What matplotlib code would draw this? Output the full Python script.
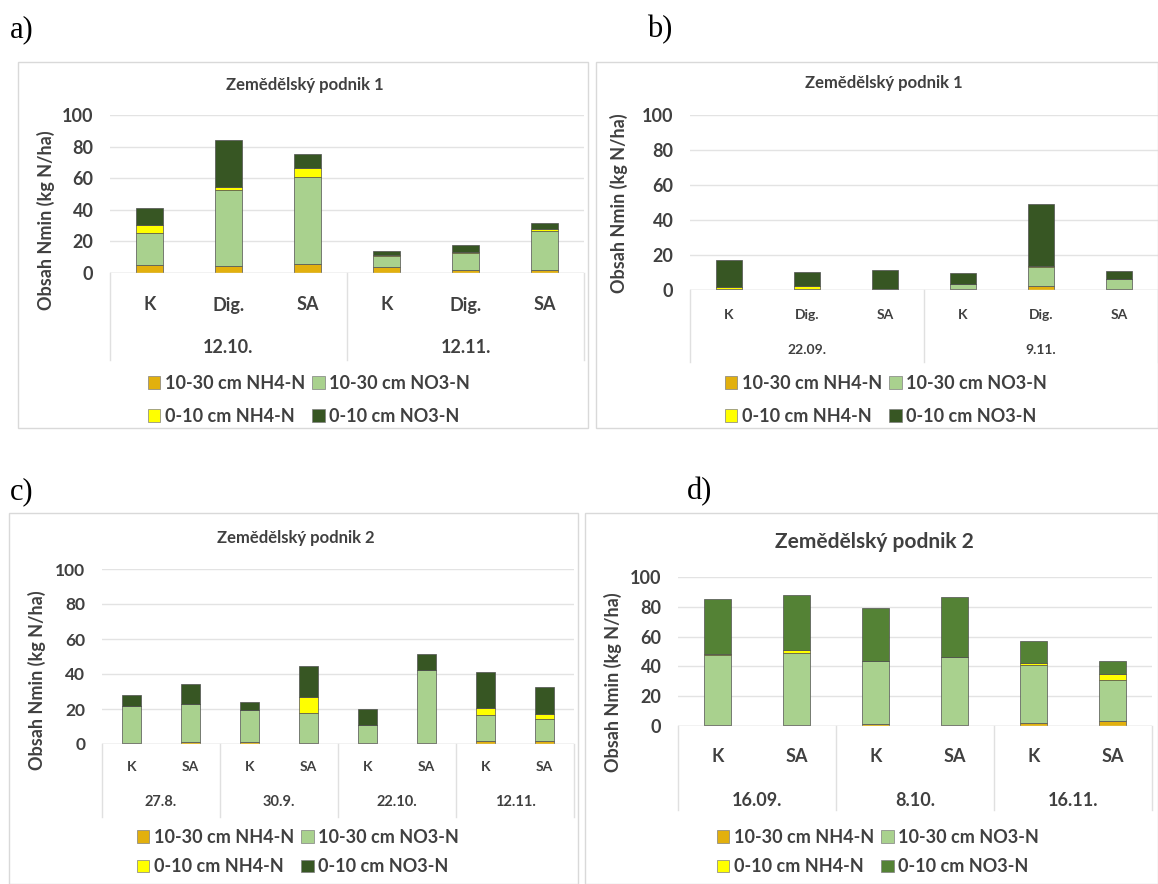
import matplotlib.pyplot as plt
from matplotlib.patches import Patch, Rectangle
from matplotlib.transforms import blended_transform_factory

plt.rcParams['font.family'] = ['Lato', 'DejaVu Sans']

W, H = 1158, 884

legend_labels = ["10-30 cm NH4-N", "10-30 cm NO3-N", "0-10 cm NH4-N", "0-10 cm NO3-N"]

# a) Zemědělský podnik 1
a_cats = ["K", "Dig.", "SA", "K", "Dig.", "SA"]
a_dates = ["12.10.", "12.11."]
a_nh4_deep = [5, 4.7, 6, 3.5, 2, 2]
a_no3_deep = [20.5, 48, 55, 7, 10.7, 24.5]
a_nh4_top = [5, 2, 5.3, 1, 0.5, 1.5]
a_no3_top = [10.5, 29.5, 9, 2.5, 4.5, 3.8]

# b) Zemědělský podnik 1
b_cats = ["K", "Dig.", "SA", "K", "Dig.", "SA"]
b_dates = ["22.09.", "9.11."]
b_nh4_deep = [0.3, 0.5, 0.3, 0.3, 2.3, 0.5]
b_no3_deep = [0.5, 0.3, 0.3, 3, 10.7, 5.6]
b_nh4_top = [0.8, 1.5, 0.2, 0.2, 0.5, 0.2]
b_no3_top = [15.6, 8, 10.5, 6.3, 35.4, 4.8]

# c) Zemědělský podnik 2
c_cats = ["K", "SA", "K", "SA", "K", "SA", "K", "SA"]
c_dates = ["27.8.", "30.9.", "22.10.", "12.11."]
c_nh4_deep = [0.3, 1, 1, 0.5, 0.3, 0.3, 2, 2]
c_no3_deep = [21.5, 21.7, 18.5, 17.1, 10.6, 42.1, 14.6, 12.5]
c_nh4_top = [0, 0.3, 0, 9.5, 0, 0, 3.8, 2.5]
c_no3_top = [6.2, 11.4, 4.4, 17.6, 9.3, 9.1, 21, 15.8]

# d) Zemědělský podnik 2
d_cats = ["K", "SA", "K", "SA", "K", "SA"]
d_dates = ["16.09.", "8.10.", "16.11."]
d_nh4_deep = [1, 1, 1.5, 1, 2, 3.3]
d_no3_deep = [46.5, 48.1, 42, 45, 38.8, 27.9]
d_nh4_top = [0.5, 1.8, 0.3, 0.3, 1.2, 3.4]
d_no3_top = [37.5, 37.3, 35.4, 40.3, 15.1, 9.2]

colors_dark = ['#E2B00E', '#A9D18E', '#FFFF00', '#375623']
colors_mid = ['#E2B00E', '#A9D18E', '#FFFF00', '#548235']

fig = plt.figure(figsize=(W / 100, H / 100), dpi=100)


def fx(x):
    return x / W


def fy(y):
    return 1 - y / H


def panel(box, plot, title, title_xy, title_fs, ylab_xy, cats, dates, layers, colors,
          cat_y, cat_fs, date_y, date_fs, sep_bottom, leg_xy, leg_fs, leg_ls, tick_fs):
    # light frame of the chart
    x0, y0, x1, y1 = box
    fig.add_artist(Rectangle((fx(x0), fy(y1)), fx(x1) - fx(x0), fy(y0) - fy(y1),
                             transform=fig.transFigure, fill=False, ec='#d9d9d9', lw=1))
    l, t, r, b = plot
    ax = fig.add_axes([fx(l), fy(b), fx(r) - fx(l), fy(t) - fy(b)])
    n = len(cats)
    xs = list(range(n))
    bottom = [0] * n
    handles = []
    for vals, col, lab in zip(layers, colors, legend_labels):
        ax.bar(xs, vals, 0.33, bottom=bottom, color=col, edgecolor='#505050', linewidth=0.5)
        bottom = [bo + v for bo, v in zip(bottom, vals)]
        handles.append(Patch(facecolor=col, edgecolor='#808080', linewidth=0.5, label=lab))
    ax.set_xlim(-0.5, n - 0.5)
    ax.set_ylim(0, 100)
    ax.set_yticks(range(0, 101, 20))
    ax.yaxis.grid(True, color='#e3e3e3', lw=1)
    ax.set_axisbelow(True)
    for s in ax.spines.values():
        s.set_visible(False)
    ax.axhline(0, color='#d9d9d9', lw=1)
    ax.set_xticks([])
    ax.tick_params(axis='y', length=0, labelsize=tick_fs, labelcolor='#404040', pad=12)
    for lb in ax.get_yticklabels():
        lb.set_fontweight('bold')

    tr = blended_transform_factory(ax.transData, fig.transFigure)
    for i, c in enumerate(cats):
        ax.text(i, fy(cat_y), c, transform=tr, ha='center', va='center',
                fontsize=cat_fs, fontweight='bold', color='#404040')
    k = n // len(dates)
    for j, d in enumerate(dates):
        ax.text(j * k + (k - 1) / 2, fy(date_y), d, transform=tr, ha='center', va='center',
                fontsize=date_fs, fontweight='bold', color='#404040')
    for j in range(len(dates) + 1):
        ax.plot([j * k - 0.5] * 2, [fy(b), fy(sep_bottom)], transform=tr,
                color='#e0e0e0', lw=1, clip_on=False)

    fig.text(fx(title_xy[0]), fy(title_xy[1]), title, ha='center', va='center',
             fontsize=title_fs, fontweight='bold', color='#404040')
    fig.text(fx(ylab_xy[0]), fy(ylab_xy[1]), "Obsah Nmin (kg N/ha)", rotation=90,
             ha='center', va='center', fontsize=13, fontweight='bold', color='#404040')
    order = [handles[0], handles[2], handles[1], handles[3]]
    fig.legend(handles=order, labels=[h.get_label() for h in order], ncol=2, loc='center',
               bbox_to_anchor=(fx(leg_xy[0]), fy(leg_xy[1])), frameon=False,
               fontsize=leg_fs, handlelength=0.7, handleheight=0.7, handletextpad=0.25,
               columnspacing=0.4, labelspacing=leg_ls, borderpad=0,
               prop={'weight': 'bold', 'size': leg_fs}, labelcolor='#404040')


panel((18, 62, 588, 428), (110, 115, 584, 273), "Zemědělský podnik 1", (305, 85), 12, (46, 220),
      a_cats, a_dates, [a_nh4_deep, a_no3_deep, a_nh4_top, a_no3_top], colors_dark,
      305, 13, 348, 13, 360, (309, 400), 13, 0.9, 13)

panel((596, 62, 1158, 428), (690, 115, 1158, 290), "Zemědělský podnik 1", (884, 83), 12, (619, 203),
      b_cats, b_dates, [b_nh4_deep, b_no3_deep, b_nh4_top, b_no3_top], colors_dark,
      315, 10, 350, 10, 362, (886, 400), 13, 0.9, 13)

panel((9, 513, 578, 884), (102, 569, 574, 744), "Zemědělský podnik 2", (296, 538), 12, (37, 680),
      c_cats, c_dates, [c_nh4_deep, c_no3_deep, c_nh4_top, c_no3_top], colors_dark,
      767, 10, 802, 10.5, 817, (298, 852), 13, 0.7, 12.5)

panel((585, 513, 1158, 884), (678, 577, 1152, 726), "Zemědělský podnik 2", (874, 542), 15, (613, 682),
      d_cats, d_dates, [d_nh4_deep, d_no3_deep, d_nh4_top, d_no3_top], colors_mid,
      757, 13, 800, 13, 810, (878, 852), 13, 0.7, 13)

for lab, x, y in [("a)", 10, 30), ("b)", 647, 30), ("c)", 10, 492), ("d)", 687, 492)]:
    fig.text(fx(x), fy(y), lab, ha='left', va='center', fontsize=22,
             family=['Liberation Serif', 'DejaVu Serif'])

fig.savefig('out.png', dpi=100)
